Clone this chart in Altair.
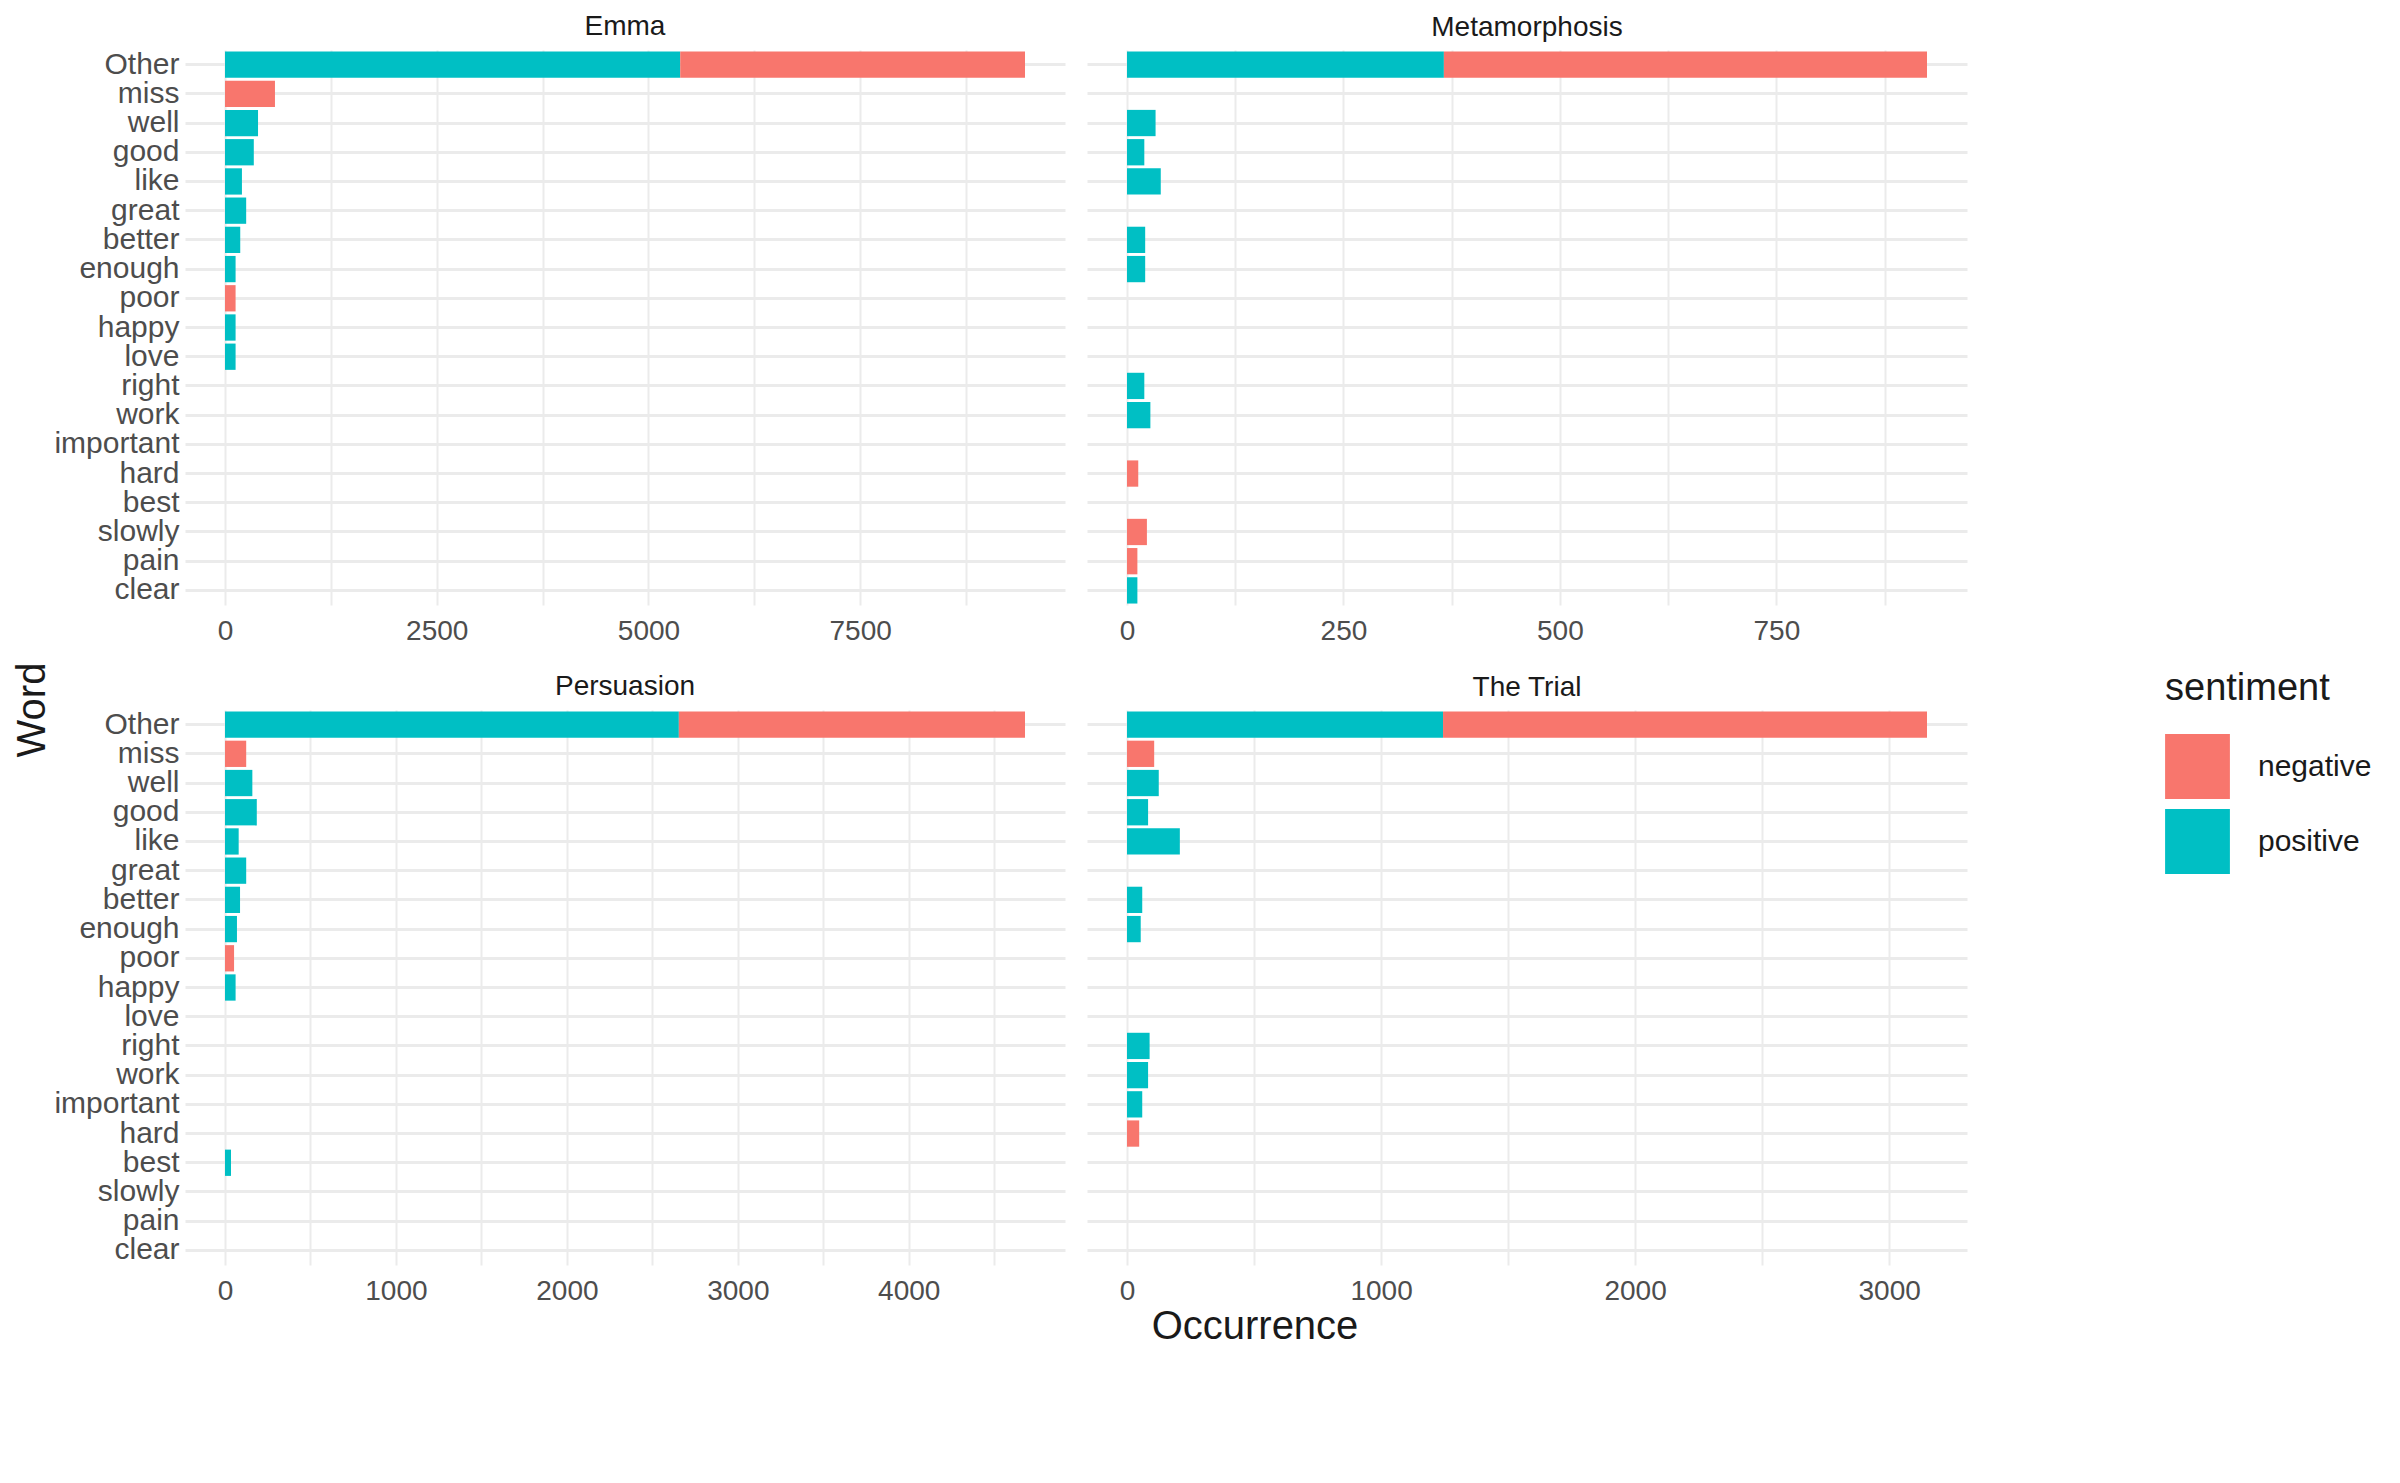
import altair as alt
import pandas as pd

words = ["Other","miss","well","good","like","great","better","enough","poor","happy",
         "love","right","work","important","hard","best","slowly","pain","clear"]
books = ["Emma","Metamorphosis","Persuasion","The Trial"]
neg_words = {"miss","poor","hard","slowly","pain"}

emma = {"Other":(5375,4071),"miss":590,"well":390,"good":340,"like":200,"great":250,
        "better":180,"enough":125,"poor":125,"happy":125,"love":125}
meta = {"Other":(366,558),"well":33,"good":20,"like":39,"better":21,"enough":21,
        "right":20,"work":27,"hard":13,"slowly":23,"pain":12,"clear":12}
pers = {"Other":(2655,2025),"miss":124,"well":160,"good":186,"like":80,"great":124,
        "better":88,"enough":70,"poor":53,"happy":62,"best":35}
trial = {"Other":(1244,1905),"miss":107,"well":125,"good":83,"like":208,"better":60,
         "enough":54,"right":89,"work":83,"important":60,"hard":48}
values = {"Emma":emma,"Metamorphosis":meta,"Persuasion":pers,"The Trial":trial}
majors = {"Emma":[0,2500,5000,7500],"Metamorphosis":[0,250,500,750],
          "Persuasion":[0,1000,2000,3000,4000],"The Trial":[0,1000,2000,3000]}
minors = {"Emma":[1250,3750,6250,8750],"Metamorphosis":[125,375,625,875],
          "Persuasion":[500,1500,2500,3500,4500],"The Trial":[500,1500,2500]}

rows = []
for b in books:
    for w, v in values[b].items():
        if w == "Other":
            rows.append(dict(book=b, word=w, sentiment="positive", n=v[0], o=0))
            rows.append(dict(book=b, word=w, sentiment="negative", n=v[1], o=1))
        else:
            rows.append(dict(book=b, word=w, sentiment="negative" if w in neg_words else "positive", n=v, o=0))
df = pd.DataFrame(rows)

FONT = "Liberation Sans"
W, H = 880, 555

def panel(b, show_y):
    d = df[df.book == b]
    tot = d.groupby("word").n.sum().max()
    mj = majors[b]
    allv = sorted(mj + minors[b])
    lab = "indexof(" + str(mj) + ", datum.value) >= 0 ? datum.label : ''"
    return alt.Chart(d, title=alt.TitleParams(b, fontSize=28, font=FONT, fontWeight="normal", color="#1a1a1a", offset=8)).mark_bar().encode(
        y=alt.Y("word:N", sort=words, scale=alt.Scale(domain=words, paddingInner=0.1, paddingOuter=0.05),
                axis=alt.Axis(title=None, labels=show_y, ticks=False, domain=False, grid=True, bandPosition=0.5,
                              gridColor="#ebebeb", gridWidth=3, labelFontSize=30, labelFont=FONT,
                              labelColor="#4d4d4d", labelPadding=6)),
        x=alt.X("n:Q", stack="zero", scale=alt.Scale(domain=[-0.05*tot, 1.05*tot], nice=False, zero=False),
                axis=alt.Axis(title=None, values=allv, labelExpr=lab, format="d", ticks=False, domain=False,
                              gridColor="#ebebeb", gridWidth=2, labelFontSize=28, labelFont=FONT,
                              labelColor="#4d4d4d", labelPadding=12)),
        color=alt.Color("sentiment:N", scale=alt.Scale(domain=["negative","positive"], range=["#F8766D","#00BFC4"]),
                        legend=alt.Legend(title="sentiment", titleFontSize=38, titleFont=FONT, titleFontWeight="normal",
                                          labelFontSize=30, labelFont=FONT, symbolType="square", symbolSize=4200,
                                          symbolStrokeWidth=0, rowPadding=10, labelOffset=28, titlePadding=26,
                                          orient="none", legendX=2150, legendY=620,
                                          titleColor="#1a1a1a", labelColor="#1a1a1a")),
        order=alt.Order("o:Q"),
    ).properties(width=W, height=H)

grid = alt.vconcat(
    alt.hconcat(panel("Emma", True), panel("Metamorphosis", False), spacing=22),
    alt.hconcat(panel("Persuasion", True), panel("The Trial", False), spacing=22),
    spacing=28)

ytitle = alt.Chart(pd.DataFrame({"t":["Word"]})).mark_text(angle=270, fontSize=40, font=FONT, color="#1a1a1a").encode(
    text="t:N", x=alt.value(18), y=alt.value(660)).properties(width=36, height=1260)
xtitle = alt.Chart(pd.DataFrame({"t":["Occurrence"]})).mark_text(fontSize=40, font=FONT, color="#1a1a1a").encode(
    text="t:N", x=alt.value(1070), y=alt.value(14)).properties(width=1950, height=36)

chart = alt.hconcat(ytitle, alt.vconcat(grid, xtitle, spacing=2), spacing=0).configure(
    background="white").configure_view(stroke=None)
chart.save("out.html", embed_options={"renderer": "svg", "actions": False})
